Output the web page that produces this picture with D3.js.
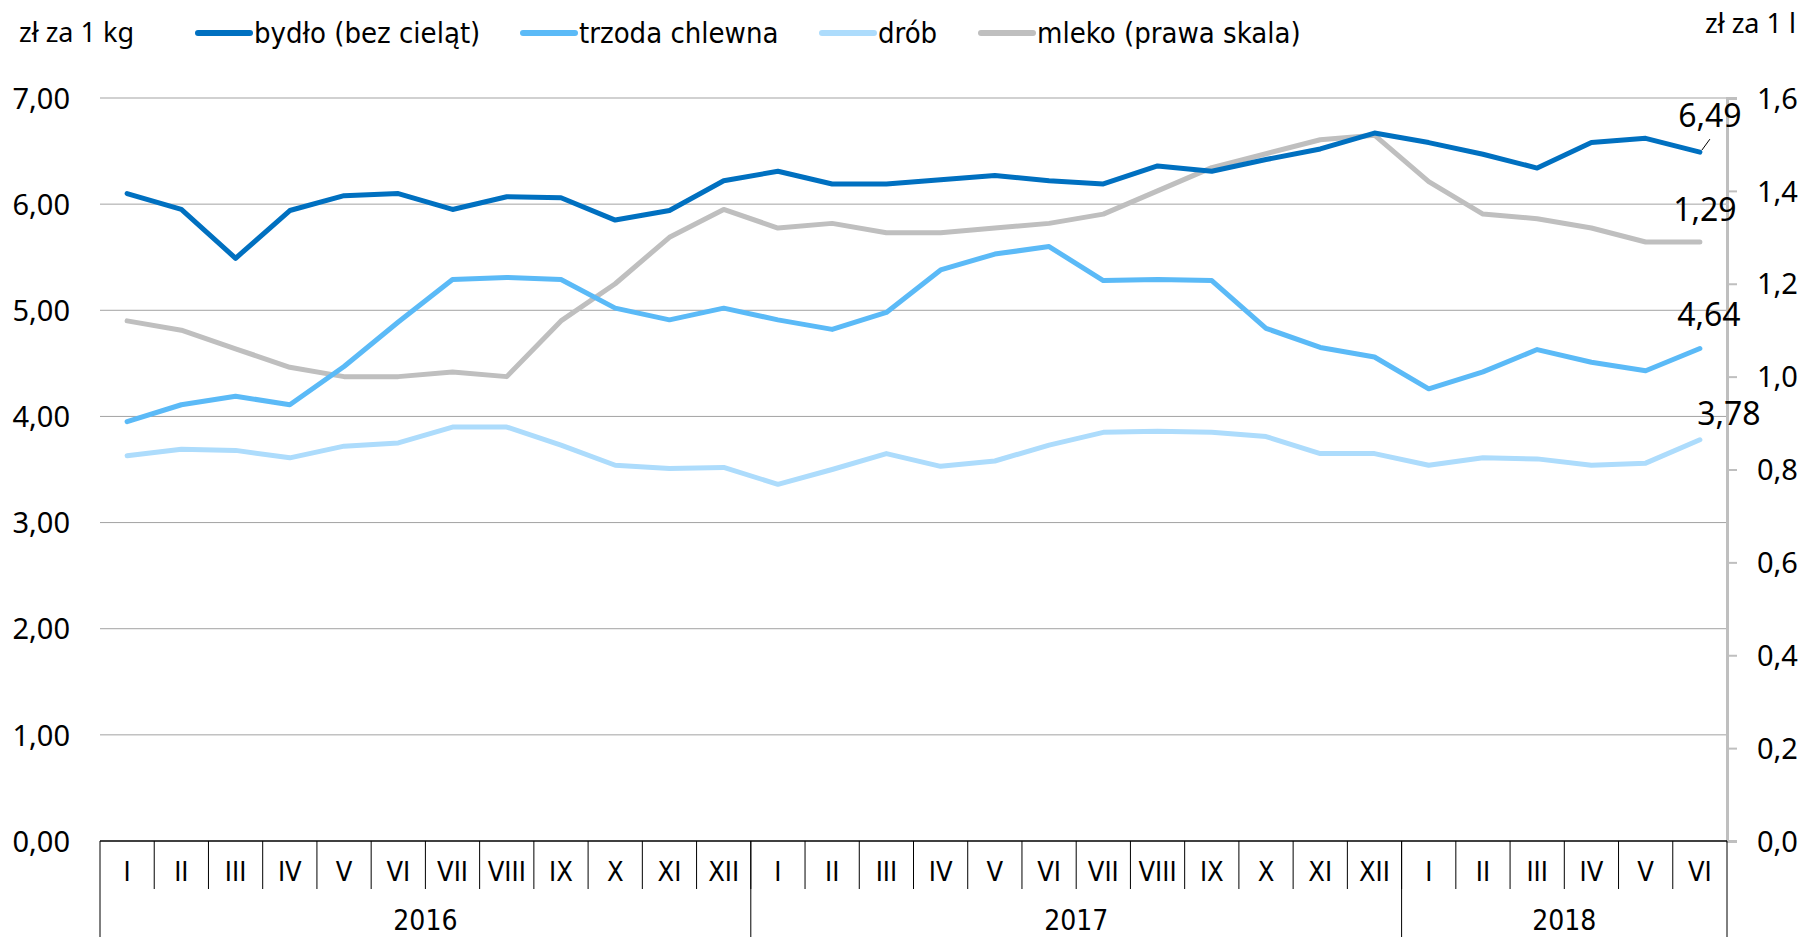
<!DOCTYPE html>
<html>
<head>
<meta charset="utf-8">
<script src="https://cdn.jsdelivr.net/npm/d3@7"></script>
<style>
  body { margin: 0; background: #fff; }
  svg { display: block; }
  .num { font-family: "Noto Sans", sans-serif; fill: #000; }
  .cond { font-family: "Liberation Sans Narrow", "DejaVu Sans Condensed", sans-serif; fill: #000; }
</style>
</head>
<body>
<svg width="1804" height="937"></svg>
<script>

// months, 2016 I .. 2018 VI
let months = ['I','II','III','IV','V','VI','VII','VIII','IX','X','XI','XII',
              'I','II','III','IV','V','VI','VII','VIII','IX','X','XI','XII',
              'I','II','III','IV','V','VI']
let years = [{ label: '2016', n: 12 }, { label: '2017', n: 12 }, { label: '2018', n: 6 }]

// zł za 1 kg
let bydlo = [6.10, 5.95, 5.49, 5.94, 6.08, 6.10, 5.95, 6.07, 6.06, 5.85, 5.94, 6.22,
             6.31, 6.19, 6.19, 6.23, 6.27, 6.22, 6.19, 6.36, 6.31, 6.42, 6.52, 6.67,
             6.58, 6.47, 6.34, 6.58, 6.62, 6.49]
let trzoda = [3.95, 4.11, 4.19, 4.11, 4.47, 4.89, 5.29, 5.31, 5.29, 5.02, 4.91, 5.02,
              4.91, 4.82, 4.98, 5.38, 5.53, 5.60, 5.28, 5.29, 5.28, 4.83, 4.65, 4.56,
              4.26, 4.42, 4.63, 4.51, 4.43, 4.64]
let drob = [3.63, 3.69, 3.68, 3.61, 3.72, 3.75, 3.90, 3.90, 3.73, 3.54, 3.51, 3.52,
            3.36, 3.50, 3.65, 3.53, 3.58, 3.73, 3.85, 3.86, 3.85, 3.81, 3.65, 3.65,
            3.54, 3.61, 3.60, 3.54, 3.56, 3.78]
// zł za 1 l (right scale)
let mleko = [1.12, 1.10, 1.06, 1.02, 1.00, 1.00, 1.01, 1.00, 1.12, 1.20, 1.30, 1.36,
             1.32, 1.33, 1.31, 1.31, 1.32, 1.33, 1.35, 1.40, 1.45, 1.48, 1.51, 1.52,
             1.42, 1.35, 1.34, 1.32, 1.29, 1.29]

let leftTicks = [0, 1, 2, 3, 4, 5, 6, 7]
let rightTicks = [0, 0.2, 0.4, 0.6, 0.8, 1.0, 1.2, 1.4, 1.6]

let series = [
  { name: 'bydło (bez cieląt)', values: bydlo, color: '#0070c0', axis: 'left', legendX: 196, lx: 10, ly: -25 },
  { name: 'trzoda chlewna', values: trzoda, color: '#5bbaf7', axis: 'left', legendX: 521, lx: 9, ly: -22 },
  { name: 'drób', values: drob, color: '#addcfc', axis: 'left', legendX: 820, lx: 29, ly: -15 },
  { name: 'mleko (prawa skala)', values: mleko, color: '#bfbfbf', axis: 'right', legendX: 979, lx: 5, ly: -21 }
]

let svg = d3.select('svg')
let mLeft = 100, mRight = 1727, mTop = 98, mBottom = 841

let x = d3.scaleBand().domain(d3.range(months.length)).range([mLeft, mRight])
let yL = d3.scaleLinear().domain([0, 7]).range([mBottom, mTop])
let yR = d3.scaleLinear().domain([0, 1.6]).range([mBottom, mTop])
let fmt = (v, d) => v.toFixed(d).replace('.', ',')

let back = svg.append('g')

// gridlines
back.append('g')
  .selectAll('line')
  .data(leftTicks.filter(d => d > 0))
  .enter().append('line')
  .attr('x1', mLeft).attr('x2', mRight)
  .attr('y1', d => yL(d)).attr('y2', d => yL(d))
  .attr('stroke', '#a3a3a3').attr('stroke-width', 1)

// left axis labels
let gl = back.append('g')
  .attr('transform', `translate(${mLeft},0)`)
  .call(d3.axisLeft(yL).tickValues(leftTicks).tickSize(0).tickPadding(30).tickFormat(d => fmt(d, 2)))
gl.select('.domain').remove()
gl.selectAll('text').attr('class', 'num').attr('font-size', 29).attr('dy', '0.35em')

// right axis
let gr = back.append('g')
  .attr('transform', `translate(${mRight},0)`)
  .call(d3.axisRight(yR).tickValues(rightTicks).tickSize(10).tickPadding(20).tickFormat(d => fmt(d, 1)))
gr.select('.domain').attr('stroke', '#bfbfbf').attr('stroke-width', 3)
gr.selectAll('.tick line').attr('stroke', '#bfbfbf').attr('stroke-width', 2)
gr.selectAll('text').attr('class', 'num').attr('font-size', 29).attr('dy', '0.35em')

// category axis box
let xa = back.append('g')
xa.append('line').attr('x1', mLeft).attr('x2', mRight).attr('y1', mBottom).attr('y2', mBottom)
  .attr('stroke', '#000').attr('stroke-width', 1.5)
xa.selectAll('.sep')
  .data(d3.range(1, months.length))
  .enter().append('line')
  .attr('x1', d => x(d)).attr('x2', d => x(d))
  .attr('y1', mBottom).attr('y2', 889)
  .attr('stroke', '#000').attr('stroke-width', 1)
xa.selectAll('.mlab')
  .data(months)
  .enter().append('text')
  .attr('class', 'cond')
  .attr('font-size', 27)
  .attr('text-anchor', 'middle')
  .attr('x', (d, i) => x(i) + x.bandwidth() / 2)
  .attr('y', 881)
  .text(d => d)

let yStart = 0
years.forEach(yr => {
  yr.start = yStart
  yStart += yr.n
})
let edges = [0].concat(years.map(yr => yr.start + yr.n))
xa.selectAll('.ysep')
  .data(edges)
  .enter().append('line')
  .attr('x1', d => d < months.length ? x(d) : mRight)
  .attr('x2', d => d < months.length ? x(d) : mRight)
  .attr('y1', mBottom).attr('y2', 937)
  .attr('stroke', '#000').attr('stroke-width', 1)
xa.selectAll('.ylab')
  .data(years)
  .enter().append('text')
  .attr('class', 'cond')
  .attr('font-size', 28)
  .attr('text-anchor', 'middle')
  .attr('x', d => (x(d.start) + (d.start + d.n < months.length ? x(d.start + d.n) : mRight)) / 2)
  .attr('y', 930)
  .text(d => d.label)

// lines, mleko first so it sits behind
let order = [3, 0, 1, 2]
order.forEach(k => {
  let s = series[k]
  let y = s.axis === 'left' ? yL : yR
  let line = d3.line()
    .x((d, i) => x(i) + x.bandwidth() / 2)
    .y(d => y(d))
  svg.append('path')
    .datum(s.values)
    .attr('fill', 'none')
    .attr('stroke', s.color)
    .attr('stroke-width', 5)
    .attr('stroke-linejoin', 'round')
    .attr('stroke-linecap', 'round')
    .attr('d', line)
})

// end labels
series.forEach(s => {
  let y = s.axis === 'left' ? yL : yR
  let last = s.values.length - 1
  let px = x(last) + x.bandwidth() / 2
  let py = y(s.values[last])
  svg.append('text')
    .attr('class', 'num')
    .attr('font-size', 32)
    .attr('text-anchor', 'middle')
    .attr('x', px + s.lx)
    .attr('y', py + s.ly)
    .text(fmt(s.values[last], 2))
})
// leader for bydło
let bx = x(29) + x.bandwidth() / 2, by = yL(bydlo[29])
svg.append('line')
  .attr('x1', bx + 2).attr('y1', by - 2)
  .attr('x2', bx + 10).attr('y2', by - 13)
  .attr('stroke', '#000').attr('stroke-width', 1)

// axis units
svg.append('text').attr('class', 'num').attr('font-size', 27)
  .attr('x', 19).attr('y', 42).text('zł za 1 kg')
svg.append('text').attr('class', 'num').attr('font-size', 27)
  .attr('x', 1705).attr('y', 33).text('zł za 1 l')

// legend
let lg = svg.append('g')
series.forEach(s => {
  lg.append('line')
    .attr('x1', s.legendX + 2).attr('x2', s.legendX + 54)
    .attr('y1', 33).attr('y2', 33)
    .attr('stroke', s.color).attr('stroke-width', 6).attr('stroke-linecap', 'round')
  lg.append('text')
    .attr('class', 'cond')
    .attr('font-size', 29)
    .attr('x', s.legendX + 58)
    .attr('y', 43)
    .text(s.name)
})

</script>
</body>
</html>
